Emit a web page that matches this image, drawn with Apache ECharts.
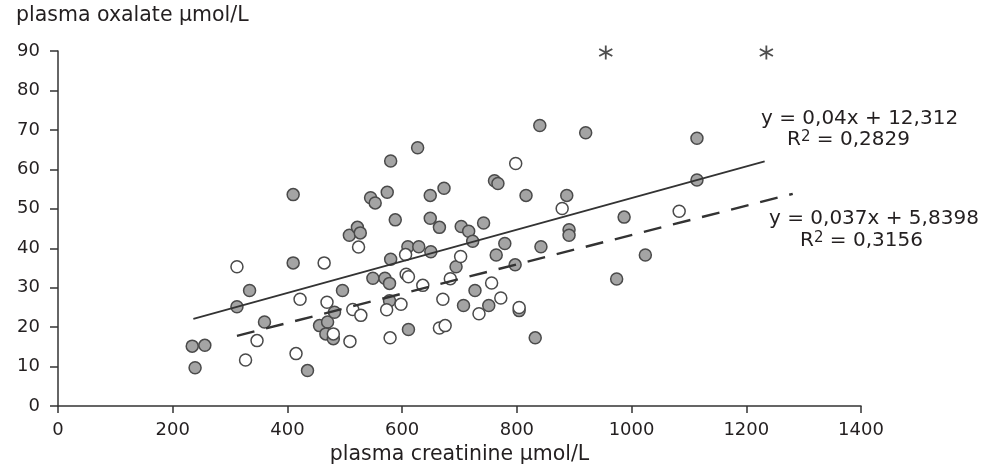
<!DOCTYPE html>
<html>
<head>
<meta charset="utf-8">
<script src="https://cdn.jsdelivr.net/npm/echarts@6/dist/echarts.min.js"></script>
<style>
  html, body { margin: 0; padding: 0; background: #fff; }
  #main { width: 985px; height: 470px; }
</style>
</head>
<body>
<div id="main"></div>
<script>
// points: [creatinine, oxalate]
var filledPts = [
    [234, 15.2], [256, 15.4], [239, 9.7], [312, 25.2], [334, 29.3], [360, 21.3],
    [410, 53.6], [410, 36.3], [435, 9.0], [456, 20.4], [470, 21.3], [467, 18.3],
    [480, 17.1], [482, 23.8], [496, 29.3], [508, 43.3], [522, 45.3], [527, 43.9],
    [545, 52.8], [553, 51.5], [549, 32.4], [570, 32.4], [578, 31.1], [574, 54.2],
    [580, 62.1], [580, 37.2], [578, 26.7], [588, 47.2], [610, 40.4], [611, 19.4],
    [627, 65.5], [629, 40.4], [650, 39.1], [649, 53.4], [673, 55.2], [649, 47.6],
    [665, 45.3], [694, 35.3], [703, 45.5], [707, 25.5], [716, 44.3], [723, 41.8],
    [727, 29.3], [742, 46.4], [751, 25.5], [761, 57.1], [767, 56.4], [764, 38.3],
    [779, 41.2], [797, 35.8], [804, 24.2], [816, 53.4], [832, 17.3], [840, 71.1],
    [842, 40.4], [887, 53.4], [891, 44.7], [891, 43.3], [920, 69.3], [974, 32.2],
    [987, 47.9], [1024, 38.3], [1114, 67.9], [1114, 57.3]
];
var openPts = [
    [312, 35.3], [327, 11.7], [347, 16.6], [415, 13.3], [422, 27.1], [464, 36.3],
    [469, 26.3], [480, 18.3], [509, 16.4], [514, 24.5], [528, 23.0], [524, 40.3],
    [573, 24.4], [579, 17.3], [598, 25.8], [606, 38.4], [607, 33.4], [611, 32.8],
    [636, 30.6], [665, 19.8], [675, 20.4], [671, 27.1], [684, 32.3], [702, 37.9],
    [734, 23.4], [756, 31.2], [772, 27.4], [798, 61.5], [804, 25.0], [879, 50.1],
    [1083, 49.4]
];
var starPts = [[955, 89.6], [1235, 89.6]];
var solidFit = [[236, 22.1], [1232, 62.0]];
var dashFit = [[312, 17.8], [1281, 53.8]];

var eqSolid = ['y = 0,04x + 12,312', 'R{s|2} = 0,2829'];
var eqDash = ['y = 0,037x + 5,8398', 'R{s|2} = 0,3156'];

var ink = '#231f20';
var font = '"DejaVu Sans", sans-serif';
var starPath = 'path://M44 0L56 0L56 100L44 100Z' +
    'M3.7 30.2L9.7 19.8L96.3 69.8L90.3 80.2Z' +
    'M9.7 80.2L3.7 69.8L90.3 19.8L96.3 30.2Z';

function eqText(txt, x, y) {
    return {
        type: 'text', left: x, top: y, z: 10,
        style: {
            text: txt, fill: ink, font: '20px ' + font,
            rich: { s: { fontSize: 15, fontFamily: font, fill: ink, verticalAlign: 'top', lineHeight: 20 } }
        }
    };
}

var chart = echarts.init(document.getElementById('main'));
chart.setOption({
    animation: false,
    backgroundColor: '#fff',
    title: {
        text: 'plasma oxalate µmol/L', left: 16, top: 5, padding: 0,
        textStyle: { fontFamily: font, fontSize: 20.5, fontWeight: 'normal', color: ink }
    },
    grid: { left: 58, right: 124, top: 51, bottom: 62, containLabel: false },
    xAxis: {
        type: 'value', min: 0, max: 1400, interval: 200,
        name: 'plasma creatinine µmol/L', nameLocation: 'middle', nameGap: 37,
        nameTextStyle: { fontFamily: font, fontSize: 20.5, color: ink },
        axisLine: { lineStyle: { color: '#333', width: 1.5 } },
        axisTick: { length: 7, lineStyle: { color: '#333', width: 1.5 } },
        axisLabel: {
            fontFamily: font, fontSize: 18, color: ink, margin: 15,
            formatter: function (v) { return String(v); }
        },
        splitLine: { show: false }
    },
    yAxis: {
        type: 'value', min: 0, max: 90, interval: 10,
        axisLine: { show: true, lineStyle: { color: '#333', width: 1.5 } },
        axisTick: { show: true, length: 8, lineStyle: { color: '#333', width: 1.5 } },
        axisLabel: { fontFamily: font, fontSize: 18, color: ink, margin: 18 },
        splitLine: { show: false }
    },
    graphic: [
        eqText(eqSolid[0], 761, 109),
        eqText(eqSolid[1], 787, 130),
        eqText(eqDash[0], 769, 209),
        eqText(eqDash[1], 800, 231)
    ],
    series: [
        {
            type: 'scatter', data: filledPts, symbolSize: 12, z: 2,
            itemStyle: { color: '#a4a4a4', borderColor: '#4a4a4a', borderWidth: 1.5, opacity: 1 }
        },
        {
            type: 'scatter', data: openPts, symbolSize: 12, z: 3,
            itemStyle: { color: '#fff', borderColor: '#4a4a4a', borderWidth: 1.5, opacity: 1 }
        },
        {
            type: 'scatter', data: starPts, symbol: starPath, symbolSize: 14, z: 4,
            itemStyle: { color: '#222' }
        },
        {
            type: 'line', data: solidFit, showSymbol: false, z: 5,
            lineStyle: { color: '#333', width: 1.8 }
        },
        {
            type: 'line', data: dashFit, showSymbol: false, z: 5,
            lineStyle: { color: '#333', width: 2.4, type: [18, 12] }
        }
    ]
});
</script>
</body>
</html>
